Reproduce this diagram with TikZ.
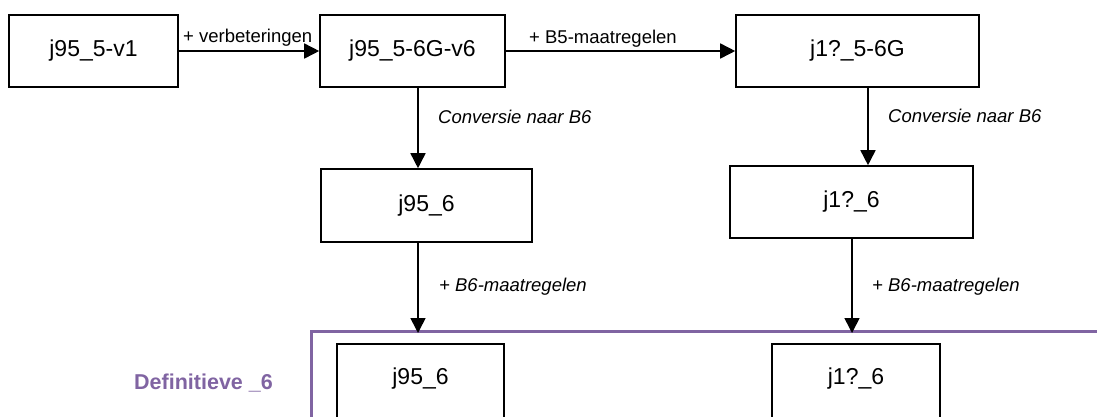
\documentclass[tikz,border=0pt]{standalone}
\usepackage{fontspec}
\setmainfont{Liberation Sans}
\usepackage{xcolor}
\usepackage{tikz}
\usetikzlibrary{
  arrows.meta,
  positioning
}

\definecolor{defpurple}{HTML}{8064A2}

\tikzset{
  versionbox/.style={draw, line width=1.6pt, inner sep=0pt,
    font=\fontsize{23}{26}\selectfont},
  cutbox/.style={versionbox, minimum height=80pt, text depth=16pt},
  stapLabel/.style={inner sep=0pt, anchor=base west,
    font=\fontsize{18.5}{21}\selectfont},
  stapArrow/.style={line width=1.6pt, -{Triangle[length=15pt,width=15pt]}},
  defFrame/.style={line width=3pt, defpurple}
}

\begin{document}
\begin{tikzpicture}[x=1pt, y=-1pt]
\useasboundingbox (0,0) rectangle (1097,416);

% Top row: versions B5
\node[versionbox, minimum width=169pt, minimum height=72pt] (v1) at (93.5,51) {j95\_5-v1};
\node[versionbox, minimum width=185pt, minimum height=72pt] (v6) at (412.5,51) {j95\_5-6G-v6};
\node[versionbox, minimum width=243pt, minimum height=72pt] (g5) at (857.5,51) {j1?\_5-6G};

% Middle row: converted to B6
\node[versionbox, minimum width=211pt, minimum height=73pt] (c95) at (426.5,205.5) {j95\_6};
\node[versionbox, minimum width=243pt, minimum height=72pt] (c1) at (851.5,202) {j1?\_6};

% Columns of the vertical arrows
\coordinate (colL) at (418,0);
\coordinate (colR) at (868,0);
\coordinate (colM) at (852,0);
\coordinate (frameTop) at (0,331);

% Definitive frame
\draw[defFrame] (311,420) -- (311,331) -- (1100,331);
\node[inner sep=0pt, anchor=base west, text=defpurple,
  font=\fontsize{21.5}{24}\selectfont\bfseries] (deflabel) at (134,389) {Definitieve \_6};

% Bottom row (cut off by the page edge)
\node[cutbox, minimum width=167pt] (d95) at (420.5,384) {j95\_6};
\node[cutbox, minimum width=168pt] (d1) at (856,384) {j1?\_6};

% Arrows
\draw[stapArrow] (v1.east) -- (v6.west);
\draw[stapArrow] (v6.east) -- (g5.west);
\draw[stapArrow] (v6.south -| colL) -- (c95.north -| colL);
\draw[stapArrow] (g5.south -| colR) -- (c1.north -| colR);
\draw[stapArrow] (c95.south -| colL) -- ([yshift=-2pt]frameTop -| colL);
\draw[stapArrow] (c1.south -| colM) -- ([yshift=-2pt]frameTop -| colM);

% Labels
\node[stapLabel] (lv) at (183,42) {+ verbeteringen};
\node[stapLabel] (lb5) at (529,43) {+ B5-maatregelen};
\node[stapLabel] (lcL) at (438,123) {\itshape Conversie naar B6};
\node[stapLabel] (lcR) at (888,122) {\itshape Conversie naar B6};
\node[stapLabel] (lmL) at (439,291) {\itshape + B6-maatregelen};
\node[stapLabel] (lmR) at (872,291) {\itshape + B6-maatregelen};

\end{tikzpicture}
\end{document}
